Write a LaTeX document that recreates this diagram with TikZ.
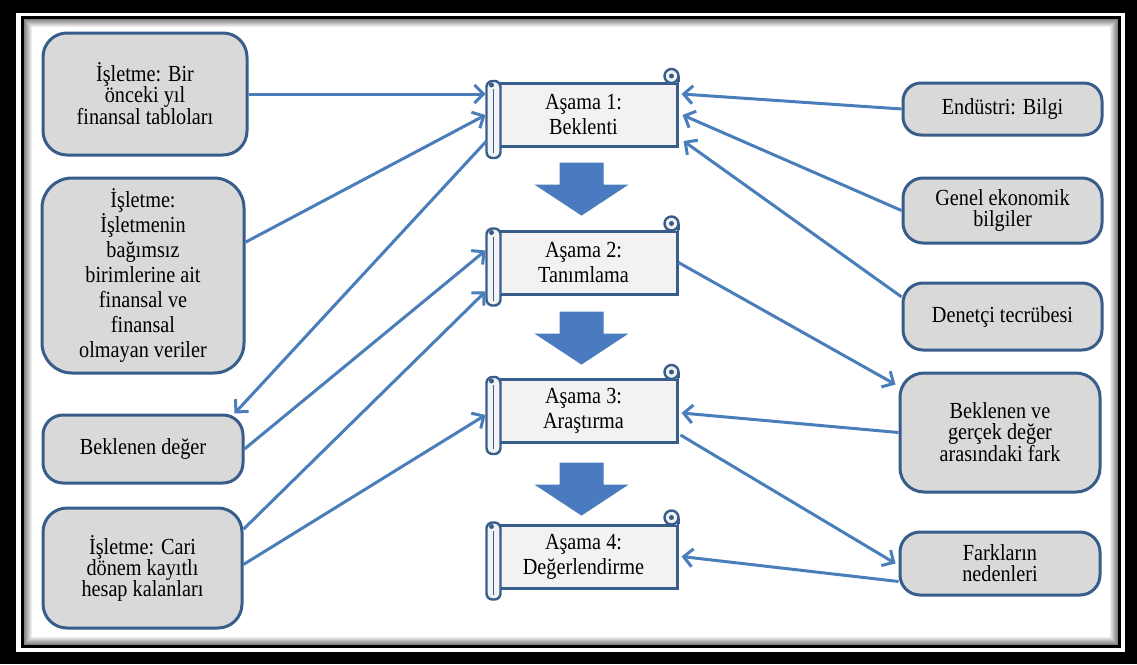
\documentclass[tikz,border=0pt]{standalone}
\usepackage{fontspec}
\setmainfont{Liberation Serif}[FakeStretch=0.88]
\usepackage{xcolor}
\usetikzlibrary{arrows.meta,positioning,calc}

\definecolor{kutugri}{HTML}{D9D9D9}
\definecolor{kenarmavi}{HTML}{385D8A}
\definecolor{okmavi}{HTML}{4A7EBB}
\definecolor{blokmavi}{HTML}{4A7AC0}
\definecolor{kagit}{HTML}{F2F2F2}

\tikzset{
    kutu/.style={draw=kenarmavi, line width=3pt, fill=kutugri, rounded corners=24pt,
        align=center, inner sep=0pt, font=\fontsize{23}{21}\selectfont},
    asama/.style={draw=kenarmavi, line width=3pt, fill=kagit, minimum width=187pt,
        minimum height=63pt, align=center, font=\fontsize{23}{25}\selectfont},
    rulo/.style={draw=kenarmavi, line width=2.4pt, fill=kagit, rounded corners=6pt},
    blok/.style={fill=blokmavi, draw=okmavi, line width=1pt},
    bag/.style={draw=okmavi, line width=3pt, -{Straight Barb[length=9pt,width=18pt]}}
}

\begin{document}
\begin{tikzpicture}[x=1pt,y=-1pt]
    % cerceve
    \useasboundingbox (0,0) rectangle (1137,664);
    \fill[black] (0,0) rectangle (1137,664);
    \fill[white] (16,13) rectangle (1125,652);
    \draw[line width=3pt] (22.5,17.5) rectangle (1119.5,646.5);
    \foreach \i [evaluate=\i as \g using 55-6*\i] in {1,...,8}
        \draw[black!\g, line width=1pt] (23.5+\i,18.5+\i) rectangle (1118.5-\i,645.5-\i);

    % sol kutular
    \node[kutu, minimum width=204pt, minimum height=122pt] (isl1) at (145,94)
        {İşletme: Bir\\önceki yıl\\finansal  tabloları};
    \node[kutu, minimum width=202pt, minimum height=195pt, rounded corners=30pt,
        font=\fontsize{23}{25}\selectfont] (isl2) at (143,275.5)
        {İşletme:\\İşletmenin\\bağımsız\\birimlerine  ait\\finansal  ve\\finansal\\olmayan  veriler};
    \node[kutu, minimum width=200pt, minimum height=68pt, rounded corners=20pt] (bekdeg) at (143,449)
        {Beklenen  değer};
    \node[kutu, minimum width=199pt, minimum height=120pt] (isl3) at (142.5,568)
        {İşletme: Cari\\dönem kayıtlı\\hesap kalanları};

    % sag kutular
    \node[kutu, minimum width=199pt, minimum height=52pt, rounded corners=18pt] (endustri) at (1002.5,109)
        {Endüstri: Bilgi};
    \node[kutu, minimum width=199pt, minimum height=65pt, rounded corners=20pt] (ekonomi) at (1002.5,210.5)
        {Genel  ekonomik\\bilgiler};
    \node[kutu, minimum width=199pt, minimum height=67pt, rounded corners=20pt] (tecrube) at (1002.5,316.5)
        {Denetçi  tecrübesi};
    \node[kutu, minimum width=200pt, minimum height=119pt] (fark) at (1000,432.5)
        {Beklenen  ve\\gerçek  değer\\arasındaki  fark};
    \node[kutu, minimum width=200pt, minimum height=63pt, rounded corners=20pt] (nedenler) at (1000,563.5)
        {Farkların\\nedenleri};

    % asamalar
    \node[asama] (asama1) at (583.5,115) {Aşama  1:\\Beklenti};
    \node[asama] (asama2) at (583.5,262.5) {Aşama  2:\\Tanımlama};
    \node[asama] (asama3) at (583.5,411) {Aşama  3:\\Araştırma};
    \node[asama] (asama4) at (583.5,556.5) {Aşama  4:\\Değerlendirme};
    \foreach \s in {asama1,asama2,asama3,asama4} {
        % sol rulo
        \draw[rulo] ($(\s.north west)+(-2,-1)$) rectangle ($(\s.south west)+(12,10)$);
        \draw[kenarmavi, line width=1.2pt] ($(\s.north west)+(5,7)$) -- ($(\s.south west)+(5,5)$);
        \fill[kenarmavi] ($(\s.north west)+(3,3)$) circle (2.5pt);
        % sag ust rulo
        \fill[kagit] ($(\s.north east)+(-7,-6)$) rectangle ($(\s.north east)+(-1.5,1)$);
        \draw[kenarmavi, line width=3pt] ($(\s.north east)+(0,-6)$) -- (\s.north east);
        \draw[rulo] ($(\s.north east)+(-7,-6)$) circle (7pt);
        \fill[kenarmavi] ($(\s.north east)+(-7,-6)$) circle (2.5pt);
    }

    % blok oklar
    \foreach \yt in {163,312,463}
        \draw[blok] (560,\yt) -- (603,\yt) -- (603,\yt+22) -- (627,\yt+22) -- (581.5,\yt+52)
            -- (536,\yt+22) -- (560,\yt+22) -- cycle;

    % sol baglantilar
    \draw[bag] (isl1.east) -- ($(asama1.west |- isl1.east)+(-3,0)$);
    \draw[bag] (isl2.18) -- ($(asama1.west)+(-3,0)$);
    \draw[bag] ($(asama1.south west)+(-2,-7)$) -- ($(bekdeg.north east)+(-10,0)$);
    \draw[bag] (bekdeg.east) -- ($(asama2.west)+(-3,-12)$);
    \draw[bag] (isl3.21) -- ($(asama2.south west)+(-3,-4)$);
    \draw[bag] (isl3.2) -- ($(asama3.west)+(-3,4)$);

    % sag baglantilar
    \draw[bag] (endustri.west) -- ($(asama1.north east)+(3,12)$);
    \draw[bag] (ekonomi.west) -- ($(asama1.east)+(4,0)$);
    \draw[bag] (tecrube.169) -- ($(asama1.south east)+(5,-7)$);
    \draw[bag] (asama2.east) -- ($(fark.north west)+(-3,13)$);
    \draw[bag] (fark.west) -- ($(asama3.east)+(3,2)$);
    \draw[bag] ($(asama3.south east)+(2,-9)$) -- ($(nedenler.west)+(-3,0)$);
    \draw[bag] ($(nedenler.west)+(0,18)$) -- ($(asama4.east)+(3,0)$);
\end{tikzpicture}
\end{document}
